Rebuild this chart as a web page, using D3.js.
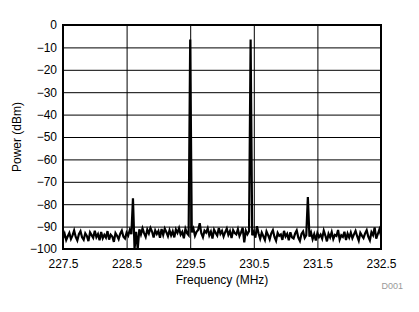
<!DOCTYPE html>
<html>
<head>
<meta charset="utf-8">
<script src="https://cdn.jsdelivr.net/npm/d3@7"></script>
<style>
  body { margin: 0; background: #fff; }
  text { font-family: "Liberation Sans", Arial, sans-serif; }
</style>
</head>
<body>
<div id="chart"></div>
<script>
// spectrum analyzer trace: start freq, bin width (MHz), and power per bin (dBm)
const freqStart = 227.5;
const binWidth = 0.025;
const powerDbm = [
  -95.1,-93.2,-96.0,-94.3,-92.8,-95.5,-93.9,-91.7,-94.6,-96.2,
  -93.4,-92.1,-94.8,-95.9,-93.0,-94.2,-96.5,-92.6,-93.8,-95.0,
  -91.9,-94.7,-93.3,-96.1,-92.4,-95.2,-93.7,-94.9,-92.0,-95.8,
  -93.6,-94.4,-96.8,-92.9,-94.1,-95.6,-93.2,-91.8,-94.5,-95.3,
  -92.7,-94.0,-91.5,-93.4,-77.4,-100,-92.3,-100,-91.2,-93.5,
  -90.8,-92.9,-94.6,-91.4,-93.1,-90.6,-92.2,-94.9,-91.7,-93.3,
  -92.0,-95.0,-91.1,-93.7,-90.9,-92.5,-94.3,-91.6,-93.9,-92.1,
  -94.8,-91.3,-92.8,-90.7,-93.6,-92.4,-95.2,-91.0,-92.9,-93.8,
  -6.5,-92.6,-90.9,-94.1,-92.3,-91.5,-88.5,-93.0,-94.7,-91.8,
  -92.7,-90.8,-93.9,-92.2,-95.3,-91.4,-92.8,-94.0,-90.6,-93.2,
  -91.9,-94.4,-92.5,-90.9,-93.7,-92.0,-95.1,-91.6,-92.9,-93.5,
  -91.2,-94.2,-92.6,-90.5,-97.0,-91.8,-93.4,-92.1,-6.5,-93.9,
  -92.4,-94.9,-89.8,-93.1,-95.4,-92.7,-94.3,-96.0,-92.2,-93.8,
  -95.7,-93.0,-91.6,-94.6,-96.3,-92.8,-94.1,-93.5,-95.9,-91.9,
  -94.4,-93.2,-96.1,-92.5,-94.8,-95.3,-93.1,-91.7,-94.9,-96.4,
  -93.3,-92.2,-95.0,-93.8,-76.8,-94.5,-92.6,-95.6,-93.4,-96.2,
  -92.9,-94.7,-93.6,-95.4,-91.8,-94.0,-96.6,-93.2,-94.8,-92.4,
  -95.5,-93.7,-94.2,-91.5,-95.8,-93.9,-94.6,-92.3,-96.0,-93.1,
  -94.9,-92.7,-95.2,-93.5,-91.9,-94.3,-96.3,-92.8,-94.0,-95.1,
  -93.0,-91.6,-94.5,-96.1,-92.5,-93.8,-90.4,-95.4,-93.3,-91.2,
  -94.0
];
const xTicks = [227.5, 228.5, 229.5, 230.5, 231.5, 232.5];
const yTicks = [0, -10, -20, -30, -40, -50, -60, -70, -80, -90, -100];

const width = 419, height = 312;
const margin = { top: 25, right: 38, bottom: 63, left: 63 };
const innerW = width - margin.left - margin.right;
const innerH = height - margin.top - margin.bottom;

const svg = d3.select('#chart')
    .append('svg')
    .attr('width', width)
    .attr('height', height);

const x = d3.scaleLinear().domain([227.5, 232.5]).range([0, innerW]);
const y = d3.scaleLinear().domain([-100, 0]).range([innerH, 0]);

const g = svg.append('g')
    .attr('transform', `translate(${margin.left},${margin.top})`);

// grid
g.append('g')
    .call(d3.axisBottom(x).tickValues(xTicks).tickSize(-innerH).tickFormat(''))
    .attr('transform', `translate(0,${innerH})`)
    .call(a => a.select('.domain').remove())
    .selectAll('line').attr('stroke', '#000').attr('stroke-width', 1);

g.append('g')
    .call(d3.axisLeft(y).tickValues(yTicks).tickSize(-innerW).tickFormat(''))
    .call(a => a.select('.domain').remove())
    .selectAll('line').attr('stroke', '#000').attr('stroke-width', 1);

// tick labels
g.append('g')
    .attr('transform', `translate(0,${innerH})`)
    .call(d3.axisBottom(x).tickValues(xTicks).tickSize(0).tickPadding(10).tickFormat(d3.format('.1f')))
    .call(a => a.select('.domain').remove())
    .selectAll('text')
        .attr('font-size', 12)
        .attr('fill', '#000')
        .style('font-family', '"Liberation Sans", Arial, sans-serif');

g.append('g')
    .call(d3.axisLeft(y).tickValues(yTicks).tickSize(0).tickPadding(6))
    .call(a => a.select('.domain').remove())
    .selectAll('text')
        .attr('font-size', 12)
        .attr('fill', '#000')
        .style('font-family', '"Liberation Sans", Arial, sans-serif');

// trace
const line = d3.line()
    .x((d, i) => x(freqStart + i * binWidth))
    .y(d => y(d));

g.append('path')
    .datum(powerDbm)
    .attr('fill', 'none')
    .attr('stroke', '#000')
    .attr('stroke-width', 2.2)
    .attr('stroke-linejoin', 'miter')
    .attr('d', line);

// frame
g.append('rect')
    .attr('width', innerW)
    .attr('height', innerH)
    .attr('fill', 'none')
    .attr('stroke', '#000')
    .attr('stroke-width', 2);

// axis titles
svg.append('text')
    .attr('x', margin.left + innerW / 2)
    .attr('y', 284)
    .attr('text-anchor', 'middle')
    .attr('font-size', 12)
    .text('Frequency (MHz)');

svg.append('text')
    .attr('transform', `translate(21,${margin.top + innerH / 2}) rotate(-90)`)
    .attr('text-anchor', 'middle')
    .attr('font-size', 12)
    .text('Power (dBm)');

svg.append('text')
    .attr('x', 403)
    .attr('y', 289)
    .attr('text-anchor', 'end')
    .attr('font-size', 9)
    .attr('fill', '#999')
    .text('D001');
</script>
</body>
</html>
